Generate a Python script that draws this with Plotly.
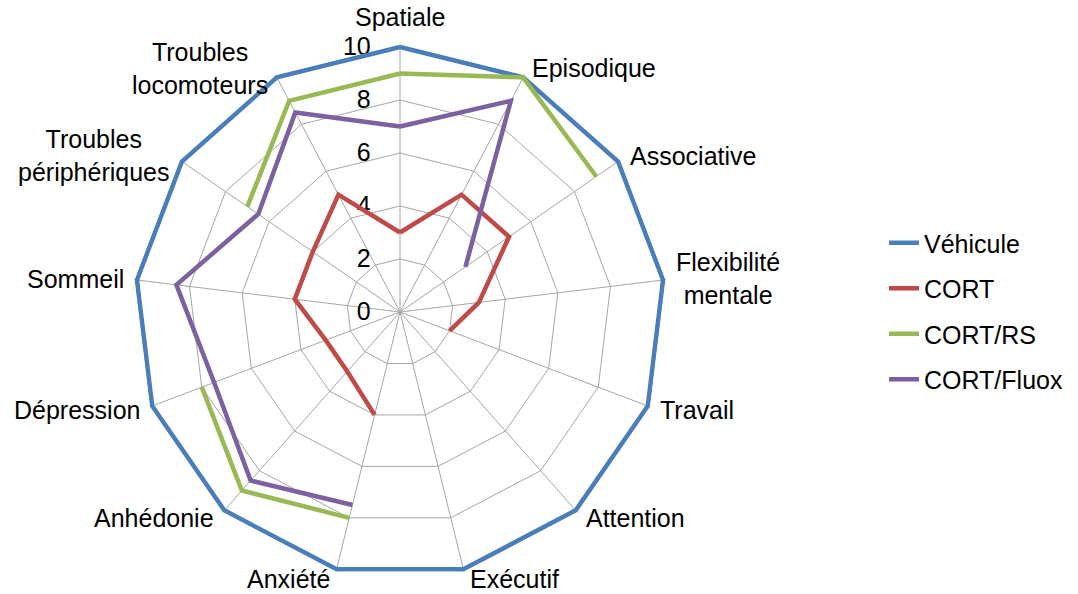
import math
import plotly.graph_objects as go

# Axes of the radar (clockwise from the top)
categories = [
    "Spatiale", "Episodique", "Associative", "Flexibilité mentale", "Travail",
    "Attention", "Exécutif", "Anxiété", "Anhédonie", "Dépression", "Sommeil",
    "Troubles périphériques", "Troubles locomoteurs",
]
# Category captions as written around the web
category_labels = [
    "Spatiale", "Episodique", "Associative", "Flexibilité<br>mentale", "Travail",
    "Attention", "Exécutif", "Anxiété", "Anhédonie", "Dépression", "Sommeil",
    "Troubles<br>périphériques", "Troubles<br>locomoteurs",
]

# Scores per group (None = not evaluated)
vehicule = [10, 10, 10, 10, 10, 10, 10, 10, 10, 10, 10, 10, 10]
cort = [3, 5, 5, 3, 2, None, None, 4, 3, 3, 4, 4, 5]
cort_rs = [9, 10, 9, None, None, None, None, 8, 9, 8, None, 7, 9]
cort_fluox = [7, 9, 3, None, None, None, None, 7.5, 8.5, 7.5, 8.5, 6.5, 8.5]

series = [
    ("Véhicule", vehicule, "#4A7EBB"),
    ("CORT", cort, "#BE4B48"),
    ("CORT/RS", cort_rs, "#98B954"),
    ("CORT/Fluox", cort_fluox, "#7D60A0"),
]

R_MAX = 10
R_PAD = 1.01            # a little room beyond the outer ring so thick lines are not clipped
FONT = "Liberation Sans, Arial, sans-serif"
FS = 25
W, H = 1078, 594
cx, cy, R = 400, 312, 265   # web centre and radius of the outer ring, in pixels
Rd = R * R_PAD              # radius of the polar domain

fig = go.Figure()
for i, (name, vals, color) in enumerate(series):
    fig.add_trace(go.Scatterpolar(
        r=vals + [vals[0]],
        theta=categories + [categories[0]],
        mode="lines",
        name=name,
        line=dict(color=color, width=4.5),
        connectgaps=False,
        cliponaxis=False,
        legendgroup=str(i),
    ))

# Category captions placed just outside each spoke end
annotations = []
n = len(categories)
for k, text in enumerate(category_labels):
    th = 2 * math.pi * k / n
    s, c = math.sin(th), math.cos(th)
    vx, vy = cx + R * s, cy - R * c
    if abs(s) < 0.01:
        xa, ya = "center", ("bottom" if c > 0 else "top")
        px, py = vx, vy - 14 * c
    else:
        xa, ya = ("left" if s > 0 else "right"), "middle"
        gap = 3 + 8 * abs(s)
        px = vx + gap * (1 if s > 0 else -1)
        py = vy - 10 * c
    annotations.append(dict(
        text=text, x=px / W, y=1 - py / H, xref="paper", yref="paper",
        xanchor=xa, yanchor=ya, align="center", showarrow=False,
        font=dict(family=FONT, size=FS, color="#000000"),
    ))

fig.update_layout(
    width=W, height=H,
    margin=dict(l=0, r=0, t=0, b=0),
    paper_bgcolor="white",
    plot_bgcolor="white",
    font=dict(family=FONT, size=FS, color="#000000"),
    annotations=annotations,
    polar=dict(
        domain=dict(x=[(cx - Rd) / W, (cx + Rd) / W],
                    y=[1 - (cy + Rd) / H, 1 - (cy - Rd) / H]),
        bgcolor="white",
        gridshape="linear",
        angularaxis=dict(
            direction="clockwise",
            rotation=90,
            showgrid=True,
            gridcolor="#A6A6A6",
            gridwidth=1,
            showline=False,
            ticks="",
            showticklabels=False,
            layer="below traces",
        ),
        radialaxis=dict(
            range=[0, R_MAX * R_PAD],
            dtick=2,
            tick0=0,
            angle=90,
            side="counterclockwise",
            showline=False,
            showgrid=True,
            gridcolor="#A6A6A6",
            gridwidth=1,
            ticks="outside",
            ticklen=20,
            tickcolor="rgba(0,0,0,0)",
            tickangle=90,
            tickfont=dict(family=FONT, size=FS, color="#000000"),
            layer="below traces",
        ),
    ),
    showlegend=True,
    legend=dict(
        x=884 / W, y=1 - 220 / H,
        xanchor="left", yanchor="top",
        font=dict(family=FONT, size=FS, color="#000000"),
        traceorder="grouped",
        tracegroupgap=10,
        bgcolor="rgba(0,0,0,0)",
    ),
)

fig.write_html("out.html")
